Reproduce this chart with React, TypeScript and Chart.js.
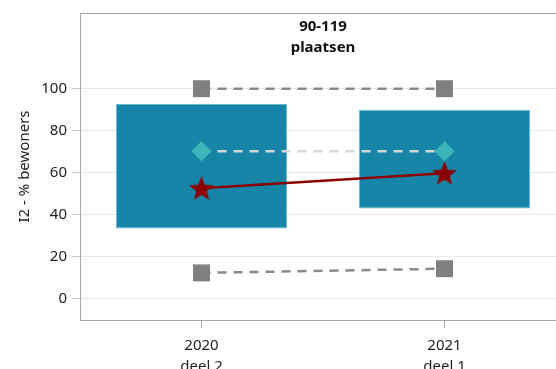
import React, { useEffect, useRef } from 'react';
import { Chart, registerables } from 'chart.js';

Chart.register(...registerables);

// ---- data ----
const categories: string[][] = [['2020', 'deel 2'], ['2021', 'deel 1']];
const boxLow = [33.5, 43];
const boxHigh = [92.8, 90];
const maxValues = [100, 100];
const minValues = [12.4, 14.4];
const avgValues = [70.3, 70.3];
const ownValues = [52.6, 59.8];
const yTicks = [0, 20, 40, 60, 80, 100];
const titleLines = ['90-119', 'plaatsen'];
const yTitle = 'I2 - % bewoners';

const FONT = "'Noto Sans', sans-serif";
const W = 570;
const H = 380;

function makeStar(outer: number, inner: number, color: string): HTMLCanvasElement {
  const size = Math.ceil(outer * 2 + 4);
  const c = document.createElement('canvas');
  c.width = size;
  c.height = size;
  const ctx = c.getContext('2d')!;
  const cx = size / 2;
  const cy = size / 2 + 1;
  ctx.beginPath();
  for (let i = 0; i < 10; i++) {
    const r = i % 2 === 0 ? outer : inner;
    const a = -Math.PI / 2 + (i * Math.PI) / 5;
    const x = cx + r * Math.cos(a);
    const y = cy + r * Math.sin(a);
    if (i === 0) ctx.moveTo(x, y);
    else ctx.lineTo(x, y);
  }
  ctx.closePath();
  ctx.fillStyle = color;
  ctx.fill();
  return c;
}

const framePlugin = {
  id: 'frame',
  beforeDatasetsDraw(chart: any) {
    const { ctx, chartArea } = chart;
    ctx.save();
    ctx.strokeStyle = '#a8a8a8';
    ctx.lineWidth = 1;
    ctx.strokeRect(chartArea.left + 0.5, chartArea.top + 0.5, chartArea.right - chartArea.left, chartArea.bottom - chartArea.top);
    ctx.restore();
  },
};

const titlePlugin = {
  id: 'innerTitle',
  afterDraw(chart: any) {
    const { ctx, chartArea } = chart;
    ctx.save();
    ctx.font = `bold 15px ${FONT}`;
    ctx.fillStyle = '#111';
    ctx.textAlign = 'center';
    ctx.textBaseline = 'middle';
    const cx = (chartArea.left + chartArea.right) / 2;
    titleLines.forEach((t, i) => {
      ctx.fillText(t, cx, chartArea.top + 14 + i * 21);
    });
    ctx.restore();
  },
};

export default function App() {
  const ref = useRef<HTMLCanvasElement | null>(null);

  useEffect(() => {
    document.documentElement.style.overflow = 'hidden';
    document.body.style.overflow = 'hidden';
    const star = makeStar(13, 5.6, '#8b0000');
    const chart = new Chart(ref.current!, {
      type: 'bar',
      data: {
        labels: categories as any,
        datasets: [
          {
            type: 'line',
            label: 'eigen',
            data: ownValues,
            borderColor: '#8b0000',
            borderWidth: 2.5,
            pointStyle: star as any,
            pointRadius: 13,
            tension: 0,
            fill: false,
            order: 0,
          } as any,
          {
            type: 'line',
            label: 'gemiddeld',
            data: avgValues,
            borderColor: '#d6d6d6',
            borderWidth: 2.5,
            borderDash: [9, 7],
            pointStyle: 'rectRot',
            pointRadius: 10,
            pointBackgroundColor: '#3cb5b9',
            pointBorderColor: '#3cb5b9',
            pointBorderWidth: 0,
            tension: 0,
            fill: false,
            order: 1,
          } as any,
          {
            type: 'line',
            label: 'max',
            data: maxValues,
            borderColor: '#8a8a8a',
            borderWidth: 2.5,
            borderDash: [9, 7],
            pointStyle: 'rect',
            pointRadius: 12,
            pointBackgroundColor: '#808080',
            pointBorderColor: '#808080',
            pointBorderWidth: 0,
            tension: 0,
            fill: false,
            order: 2,
          } as any,
          {
            type: 'line',
            label: 'min',
            data: minValues,
            borderColor: '#8a8a8a',
            borderWidth: 2.5,
            borderDash: [9, 7],
            pointStyle: 'rect',
            pointRadius: 12,
            pointBackgroundColor: '#808080',
            pointBorderColor: '#808080',
            pointBorderWidth: 0,
            tension: 0,
            fill: false,
            order: 3,
          } as any,
          {
            type: 'bar',
            label: 'spreiding',
            data: boxLow.map((lo, i) => [lo, boxHigh[i]]) as any,
            backgroundColor: '#1785a8',
            borderColor: '#6bb8d2',
            borderWidth: 1,
            borderSkipped: false,
            barPercentage: 0.705,
            categoryPercentage: 1,
            order: 10,
          } as any,
        ],
      },
      options: {
        responsive: false,
        animation: false,
        devicePixelRatio: 1,
        layout: { autoPadding: false, padding: { left: 0, top: 5, right: 12, bottom: 0 } },
        plugins: {
          legend: { display: false },
          tooltip: { enabled: false },
          title: { display: false },
        },
        scales: {
          x: {
            offset: true,
            grid: {
              offset: false,
              drawOnChartArea: false,
              drawTicks: true,
              tickLength: 8,
              tickColor: '#a8a8a8',
            },
            border: { display: true, color: '#a8a8a8' },
            ticks: {
              color: '#222',
              padding: 8,
              font: { family: FONT, size: 15, lineHeight: 1.35 },
              maxRotation: 0,
            },
            afterFit(scale: any) {
              scale.height = H - 312;
              scale.paddingLeft = 0;
              scale.paddingRight = 0;
              scale.paddingTop = 0;
              scale.paddingBottom = 0;
            },
          },
          y: {
            min: -10,
            max: 136,
            afterBuildTicks(scale: any) {
              scale.ticks = yTicks.map((v) => ({ value: v }));
            },
            grid: {
              color: '#e8e8e8',
              lineWidth: 1,
              tickLength: 8,
              tickColor: '#c8c8c8',
            },
            border: { display: true, color: '#a8a8a8' },
            ticks: {
              color: '#222',
              padding: 5,
              font: { family: FONT, size: 15 },
            },
            title: {
              display: true,
              text: yTitle,
              color: '#222',
              font: { family: FONT, size: 15 },
              padding: { top: 8, bottom: 0 },
            },
            afterFit(scale: any) {
              scale.width = 72;
              scale.paddingLeft = 0;
              scale.paddingRight = 0;
              scale.paddingTop = 0;
              scale.paddingBottom = 0;
            },
          },
        },
      },
      plugins: [framePlugin, titlePlugin],
    });
    return () => chart.destroy();
  }, []);

  return (
    <div style={{ position: 'fixed', top: 8, left: 8, width: 548, height: 361, overflow: 'hidden' }}>
      <canvas ref={ref} width={W} height={H} style={{ width: W, height: H, display: 'block' }} />
    </div>
  );
}
